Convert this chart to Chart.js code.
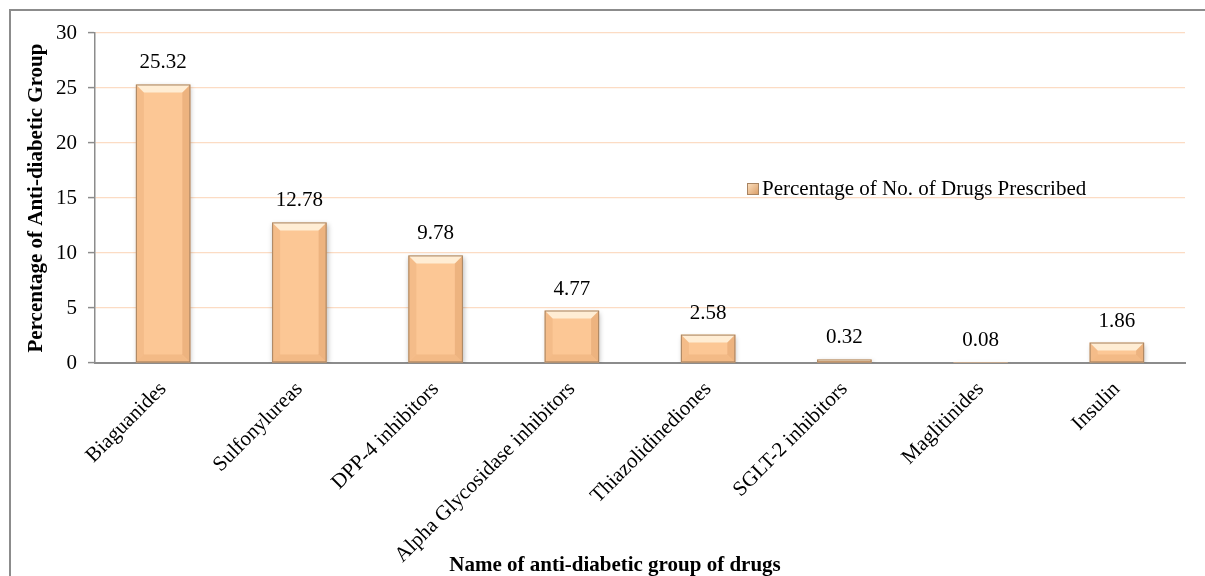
<!DOCTYPE html>
<html>
<head>
<meta charset="utf-8">
<script src="https://cdn.jsdelivr.net/npm/chart.js@4.4.1/dist/chart.umd.min.js"></script>
<style>
  html, body { margin: 0; padding: 0; background: #fff; overflow: hidden; }
  #wrap { position: relative; width: 1205px; height: 576px; }
  #frame { position: absolute; left: 9px; top: 9px; width: 1220px; height: 600px; border: 2px solid #8c8c8c; box-sizing: border-box; }
  canvas { position: absolute; left: 0; top: 0; }
</style>
</head>
<body>
<div id="wrap">
  <div id="frame"></div>
  <canvas id="chart" width="1205" height="576"></canvas>
</div>
<script>
const categories = ["Biaguanides", "Sulfonylureas", "DPP-4 inhibitors", "Alpha Glycosidase inhibitors",
  "Thiazolidinediones", "SGLT-2 inhibitors", "Maglitinides", "Insulin"];
const drugPercent = [25.32, 12.78, 9.78, 4.77, 2.58, 0.32, 0.08, 1.86];
const seriesName = "Percentage of No. of Drugs Prescribed";
const yTicks = [0, 5, 10, 15, 20, 25, 30];

const serif = "'Liberation Serif', 'Times New Roman', serif";
const fontSize = 21;
const barFill = "#fcc795";

// soft shadow under the bars
const shadowPlugin = {
  id: "barShadow",
  beforeDatasetDraw(chart) {
    const ctx = chart.ctx;
    ctx.save();
    ctx.shadowColor = "rgba(0,0,0,0.28)";
    ctx.shadowBlur = 5;
    ctx.shadowOffsetX = 1;
    ctx.shadowOffsetY = 2;
  },
  afterDatasetDraw(chart) {
    chart.ctx.restore();
  }
};

// bevel look + value labels + legend + x title
const bevelPlugin = {
  id: "bevel",
  afterDatasetsDraw(chart) {
    const ctx = chart.ctx;
    const meta = chart.getDatasetMeta(0);
    meta.data.forEach((bar, i) => {
      const left = bar.x - bar.width / 2, right = bar.x + bar.width / 2;
      const top = bar.y, bottom = bar.base;
      const h = bottom - top;
      const b = Math.min(8, h / 2, bar.width / 2);
      if (h > 1) {
        ctx.save();
        ctx.fillStyle = "rgba(255,246,228,0.8)";
        ctx.beginPath();
        ctx.moveTo(left, top); ctx.lineTo(right, top);
        ctx.lineTo(right - b, top + b); ctx.lineTo(left + b, top + b);
        ctx.closePath(); ctx.fill();
        ctx.fillStyle = "rgba(215,140,80,0.22)";
        ctx.beginPath();
        ctx.moveTo(left, bottom); ctx.lineTo(right, bottom);
        ctx.lineTo(right - b, bottom - b); ctx.lineTo(left + b, bottom - b);
        ctx.closePath(); ctx.fill();
        ctx.fillStyle = "rgba(200,130,75,0.15)";
        ctx.beginPath();
        ctx.moveTo(left, top); ctx.lineTo(left + b, top + b);
        ctx.lineTo(left + b, bottom - b); ctx.lineTo(left, bottom);
        ctx.closePath(); ctx.fill();
        ctx.fillStyle = "rgba(190,120,65,0.25)";
        ctx.beginPath();
        ctx.moveTo(right, top); ctx.lineTo(right - b, top + b);
        ctx.lineTo(right - b, bottom - b); ctx.lineTo(right, bottom);
        ctx.closePath(); ctx.fill();
        ctx.strokeStyle = "#a88462";
        ctx.lineWidth = 1;
        ctx.strokeRect(left + 0.5, top + 0.5, bar.width - 1, h - 1);
        ctx.restore();
      }
      ctx.save();
      ctx.fillStyle = "#000";
      ctx.font = fontSize + "px " + serif;
      ctx.textAlign = "center";
      ctx.textBaseline = "alphabetic";
      ctx.fillText(drugPercent[i].toFixed(2), bar.x, top - 16);
      ctx.restore();
    });
  },
  afterDraw(chart) {
    const ctx = chart.ctx;
    ctx.save();
    const lx = 747, ly = 183;
    const g = ctx.createLinearGradient(lx, ly, lx + 12, ly + 12);
    g.addColorStop(0, "#fde3c4");
    g.addColorStop(1, "#d99a62");
    ctx.fillStyle = g;
    ctx.fillRect(lx, ly, 12, 12);
    ctx.strokeStyle = "#a88462";
    ctx.strokeRect(lx + 0.5, ly + 0.5, 11, 11);
    ctx.fillStyle = "#000";
    ctx.font = fontSize + "px " + serif;
    ctx.textAlign = "left";
    ctx.textBaseline = "middle";
    ctx.fillText(chart.data.datasets[0].label, lx + 15, ly + 6);
    ctx.font = "bold " + fontSize + "px " + serif;
    ctx.textAlign = "center";
    ctx.textBaseline = "alphabetic";
    ctx.fillText("Name of anti-diabetic group of drugs", 615, 571);
    ctx.restore();
  }
};

new Chart(document.getElementById("chart"), {
  type: "bar",
  data: {
    labels: categories,
    datasets: [{
      label: seriesName,
      data: drugPercent,
      backgroundColor: barFill,
      borderWidth: 0,
      categoryPercentage: 1,
      barPercentage: 0.4
    }]
  },
  options: {
    responsive: false,
    animation: false,
    devicePixelRatio: 1,
    layout: { padding: { left: 0, top: 33, right: 20, bottom: 0 } },
    plugins: {
      legend: { display: false },
      tooltip: { enabled: false }
    },
    scales: {
      x: {
        grid: { display: false },
        border: { display: true, color: "#8c8c8c", width: 2 },
        ticks: {
          color: "#000",
          font: { family: serif, size: fontSize },
          minRotation: 45,
          maxRotation: 45,
          padding: 6
        },
        afterFit(scale) { scale.height = 213; }
      },
      y: {
        min: 0,
        max: 30,
        afterBuildTicks(scale) { scale.ticks = yTicks.map(v => ({ value: v })); },
        grid: { color: "#fcdcc4", lineWidth: 1.2, tickLength: 7, tickColor: "#8c8c8c", tickWidth: 1.5 },
        border: { display: true, color: "#8c8c8c", width: 1.5 },
        ticks: {
          color: "#000",
          font: { family: serif, size: fontSize },
          padding: 11
        },
        title: {
          display: true,
          text: "Percentage of Anti-diabetic Group",
          color: "#000",
          font: { family: serif, size: fontSize, weight: "bold" },
          padding: { top: 24, bottom: 0 }
        },
        afterFit(scale) { scale.width = 95; }
      }
    }
  },
  plugins: [shadowPlugin, bevelPlugin]
});
</script>
</body>
</html>
